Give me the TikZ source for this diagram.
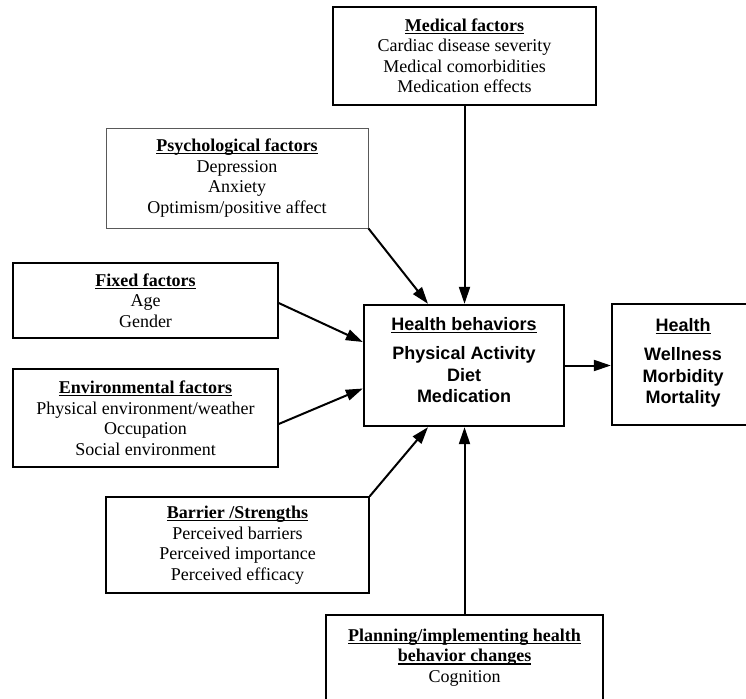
\documentclass[tikz,border=0pt]{standalone}
\usepackage{fontspec}
\setmainfont{Liberation Serif}
\newfontfamily\hbsans{Liberation Sans}
\usetikzlibrary{arrows.meta,calc}
\newcommand\myul[1]{\setbox0\hbox{#1}\leavevmode\rlap{\rule[-2.8pt]{\wd0}{1.2pt}}\box0}
\begin{document}
\begin{tikzpicture}[x=1pt,y=-1pt,
 fbox/.style={draw, line width=1.4pt, inner sep=0pt, align=center, font=\fontsize{18}{20.5}\selectfont},
 pbox/.style={fbox, draw=black!65, line width=1pt},
 hbox/.style={draw, line width=2.3pt, inner sep=0pt, align=center, font=\hbsans\bfseries\fontsize{18}{21.3}\selectfont},
 arr/.style={line width=2pt, -{Triangle[length=17pt,width=11pt]}}]
\useasboundingbox (0,0) rectangle (746,698);
\node[fbox, minimum width=263pt, minimum height=98pt] (med) at (464.5,56)
  {\myul{\textbf{Medical factors}}\\Cardiac disease severity\\Medical comorbidities\\Medication effects};
\node[pbox, minimum width=262pt, minimum height=100pt] (psy) at (237,178)
  {\myul{\textbf{Psychological factors}}\\Depression\\Anxiety\\Optimism/positive affect};
\node[fbox, minimum width=265pt, minimum height=75pt] (fix) at (145.5,300.5)
  {\myul{\textbf{Fixed factors}}\\Age\\Gender};
\node[fbox, minimum width=265pt, minimum height=98pt] (env) at (145.5,418)
  {\myul{\textbf{Environmental factors}}\\Physical environment/weather\\Occupation\\Social environment};
\node[fbox, minimum width=263pt, minimum height=96pt] (bar) at (237.5,545)
  {\myul{\textbf{Barrier /Strengths}}\\Perceived barriers\\Perceived importance\\Perceived efficacy};
\node[fbox, minimum width=277pt, minimum height=85pt] (plan) at (464.5,657.5)
  {\myul{\textbf{Planning/implementing health}}\\\myul{\textbf{behavior changes}}\\Cognition};
\node[hbox, minimum width=200pt, minimum height=121pt] (hb) at (464,365.5)
  {\myul{Health behaviors}\\[8pt]Physical Activity\\Diet\\Medication\\[-10pt]\mbox{}};
\node[hbox, minimum width=142pt, minimum height=121pt] (health) at (683,364.5)
  {\myul{Health}\\[8pt]Wellness\\Morbidity\\Mortality\\[-14pt]\mbox{}};
\draw[arr] (med.south) -- (med.south |- hb.north);
\draw[arr] (psy.south east) -- ($(hb.north)+(-36,0)$);
\draw[arr] ($(fix.east)+(0,2.5)$) -- ($(hb.west)+(0,-23.5)$);
\draw[arr] ($(env.east)+(0,6)$) -- ($(hb.west)+(0,23)$);
\draw[arr] (bar.north east) -- ($(hb.south)+(-36,0)$);
\draw[arr] (plan.north) -- (plan.north |- hb.south);
\draw[arr] (hb.east) -- (hb.east -| health.west);
\end{tikzpicture}
\end{document}
